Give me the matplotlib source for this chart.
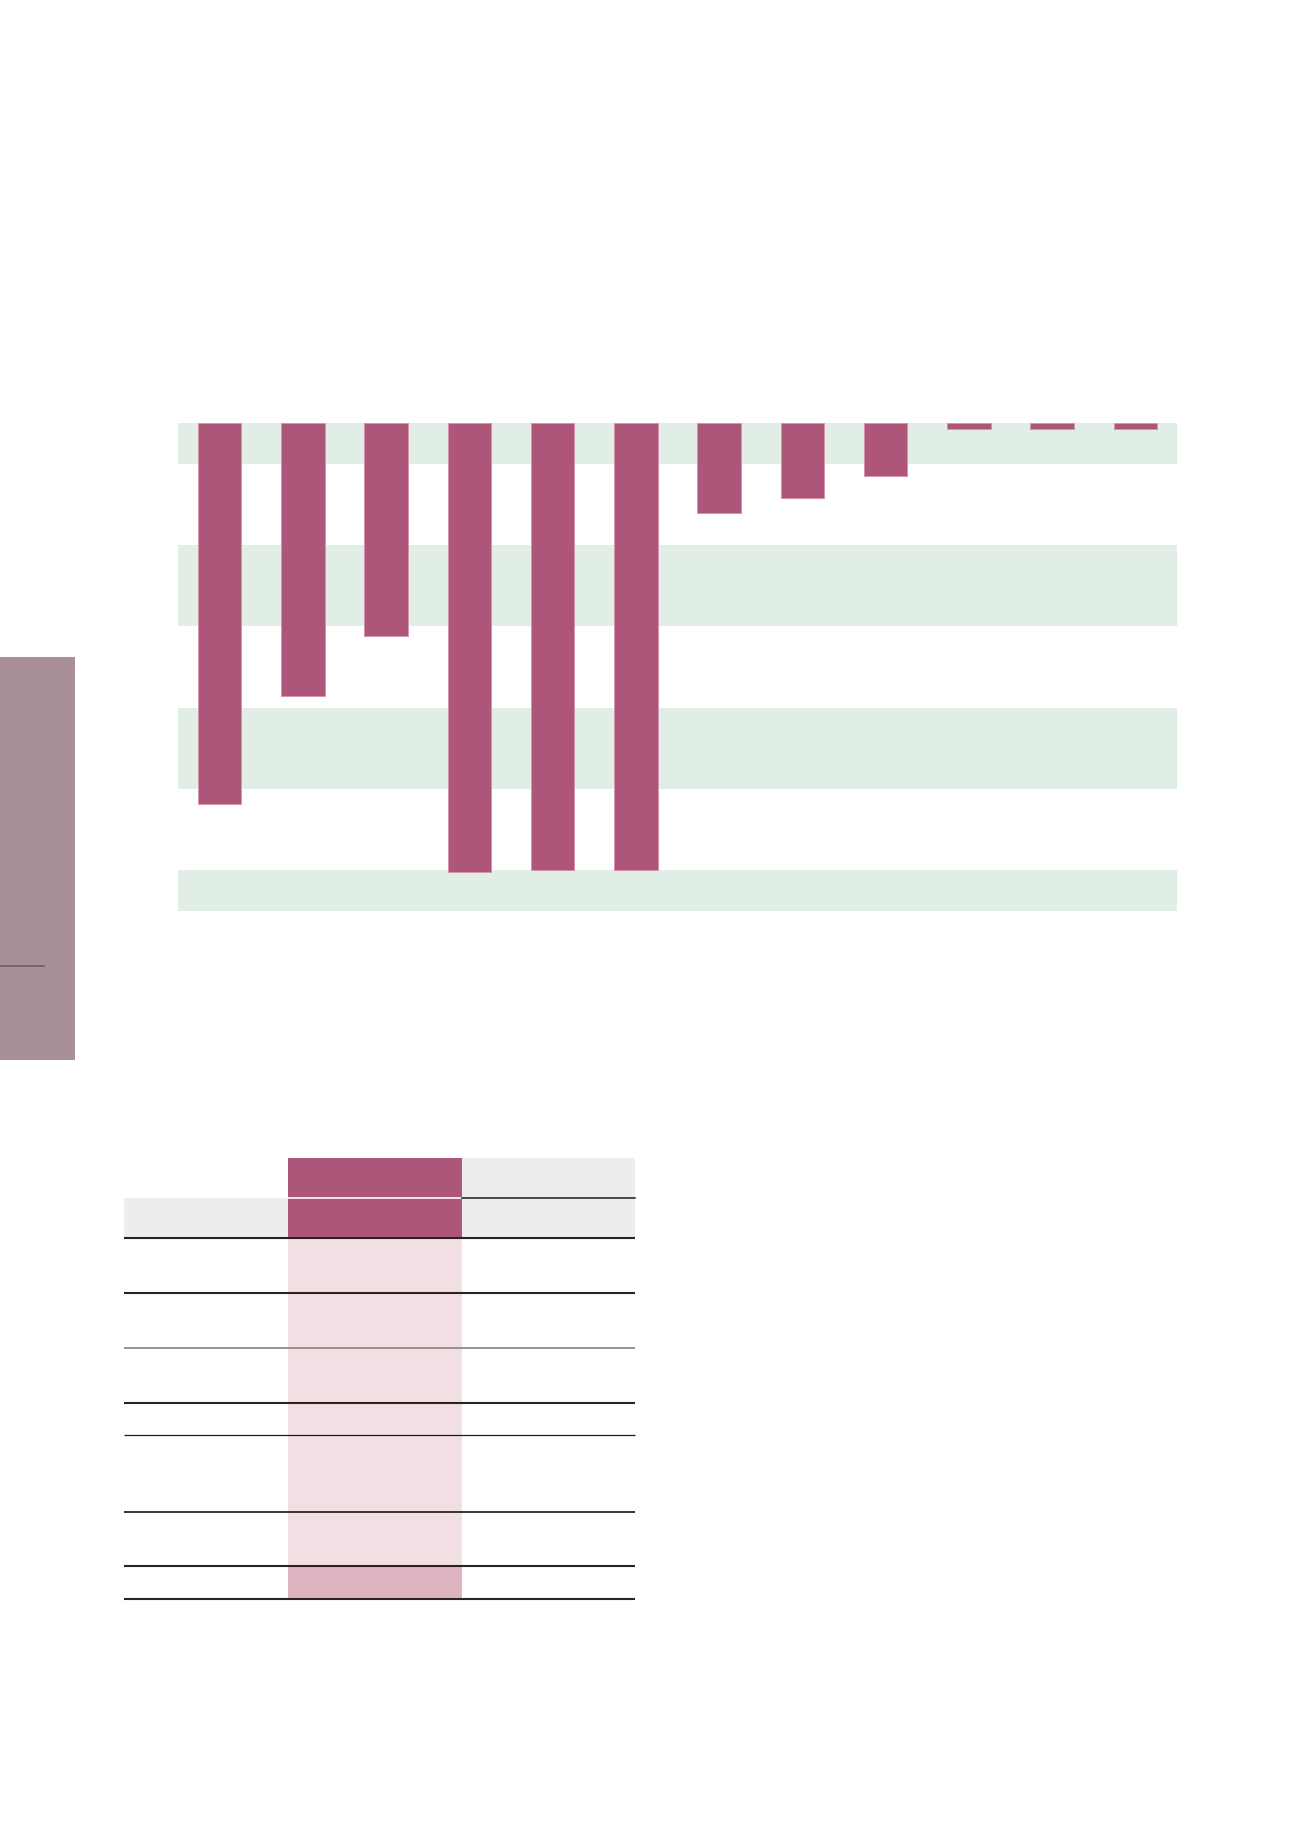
import numpy as np
import matplotlib.pyplot as plt
from matplotlib.patches import Rectangle

# bar chart values (negative = downward bars)
categories = [str(i) for i in range(1, 13)]
values = [-46.9, -33.6, -26.2, -55.2, -54.9, -54.9, -11.1, -9.2, -6.5, -0.74, -0.74, -0.74]

# alternating background bands (value ranges)
band_ranges = [(-5, 0), (-25, -15), (-45, -35), (-60, -55)]

# table layout: column edges and row edges in page pixels
table_cols = [124, 288, 462, 635]
table_rows = [1158, 1198, 1238, 1293, 1348, 1403, 1435, 1512, 1566, 1599]
row_lines = [  # (y, colour, width)
    (1238, "#2a241e", 1.5),
    (1293, "#2a241e", 1.5),
    (1348, "#8c8a88", 1.3),
    (1403, "#2a241e", 1.5),
    (1435, "#1e1a16", 0.9),
    (1512, "#2a241e", 1.3),
    (1566, "#2a241e", 1.5),
    (1599, "#2a241e", 1.5),
]

BAR = "#ae5679"
BAND = "#e0eee5"
W, H = 1300, 1839

fig = plt.figure(figsize=(W / 100, H / 100), dpi=100)

# --- page layer (sidebar + table) ---
page = fig.add_axes([0, 0, 1, 1])
page.set_xlim(0, W)
page.set_ylim(H, 0)
page.axis("off")

# side tab
page.add_patch(Rectangle((0, 657), 75, 403, color="#a89096", lw=0))
page.plot([0, 44], [966, 966], color="#7a5a66", lw=1.2)

c0, c1, c2, c3 = table_cols
r = table_rows
# header row 1
page.add_patch(Rectangle((c1, r[0]), c2 - c1, r[2] - r[0], color=BAR, lw=0))
page.add_patch(Rectangle((c2, r[0]), c3 - c2, r[2] - r[0], color="#ededed", lw=0))
# header row 2 label cell
page.add_patch(Rectangle((c0, r[1]), c1 - c0, r[2] - r[1], color="#ededed", lw=0))
# highlighted body column
page.add_patch(Rectangle((c1, r[2]), c2 - c1, r[8] - r[2], color="#f2dfe4", lw=0))
page.add_patch(Rectangle((c1, r[8]), c2 - c1, r[9] - r[8], color="#dfb4c1", lw=0))
# header separators
page.plot([c1, c2], [r[1], r[1]], color="white", lw=1.2)
page.plot([c2, c3], [r[1], r[1]], color="#1e1a16", lw=1.1)
for y, col, lw in row_lines:
    page.plot([c0, c3], [y, y], color=col, lw=lw, solid_capstyle="butt")

# --- bar chart ---
ax = fig.add_axes([178 / W, 1 - 911 / H, 999 / W, 488 / H])
x = np.arange(len(categories))
for lo, hi in band_ranges:
    ax.axhspan(lo, hi, color=BAND, lw=0, zorder=0)
ax.bar(x, values, width=0.52, color=BAR, edgecolor="#d494ad", linewidth=0.7, zorder=2)
ax.set_xlim(-0.5, len(categories) - 0.5)
ax.set_ylim(-60, 0)
ax.set_xticks([])
ax.set_yticks([])
for s in ax.spines.values():
    s.set_visible(False)
ax.patch.set_alpha(0)

fig.savefig("out.png", dpi=100)
